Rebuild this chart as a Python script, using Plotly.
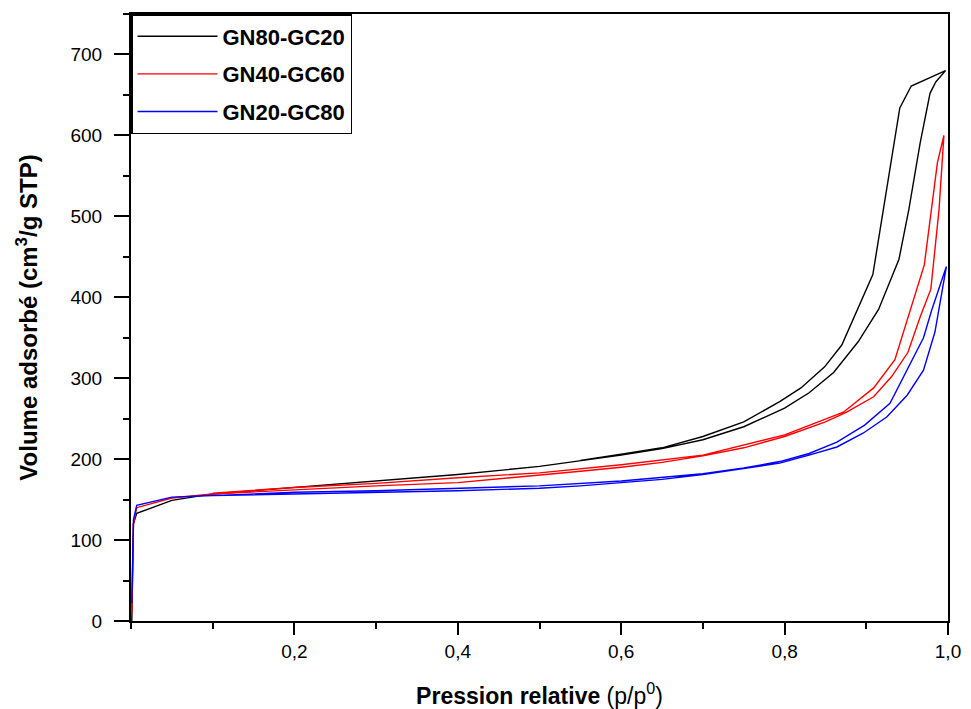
import plotly.graph_objects as go

# GN80-GC20 (black): adsorption then desorption
p_gn80 = [0.001, 0.003, 0.007, 0.05, 0.1, 0.2, 0.3, 0.4, 0.5, 0.55, 0.6, 0.65, 0.7, 0.75, 0.8, 0.83, 0.86,
          0.89, 0.915, 0.94, 0.952, 0.966, 0.978, 0.985, 0.997,
          0.955, 0.941, 0.908, 0.87, 0.849, 0.82, 0.794, 0.75, 0.7, 0.65, 0.6, 0.55]
v_gn80 = [0, 120, 133, 149, 157, 165, 173, 181, 191, 198, 205, 213, 224, 240, 263, 282, 307,
          345, 385, 447, 508, 591, 652, 666, 680,
          661, 634, 428, 341, 314, 288, 271, 246, 228, 214, 206, 198.5]

# GN40-GC60 (red)
p_gn40 = [0.001, 0.003, 0.007, 0.05, 0.1, 0.2, 0.3, 0.4, 0.5, 0.55, 0.6, 0.65, 0.7, 0.75, 0.8, 0.85,
          0.876, 0.909, 0.931, 0.951, 0.966, 0.979, 0.989, 0.995,
          0.987, 0.971, 0.935, 0.909, 0.872, 0.8, 0.7, 0.6, 0.5, 0.4, 0.3, 0.2, 0.1]
v_gn40 = [10, 120, 140, 152, 157, 162, 167, 171, 180, 185, 190, 196, 204, 214, 228, 246,
          258, 277, 302, 332, 376, 410, 508, 600,
          566, 440, 323, 288, 258, 230, 205, 193, 183, 177, 170, 165, 158]

# GN20-GC80 (blue)
p_gn20 = [0.001, 0.003, 0.007, 0.05, 0.1, 0.2, 0.3, 0.4, 0.5, 0.55, 0.6, 0.65, 0.7, 0.75, 0.794, 0.83,
          0.864, 0.896, 0.925, 0.95, 0.97, 0.984, 0.998,
          0.98, 0.97, 0.929, 0.898, 0.864, 0.83, 0.794, 0.75, 0.7, 0.6, 0.5, 0.4, 0.3, 0.2, 0.105]
v_gn20 = [22, 125, 143, 153, 155, 157, 159, 161, 164, 167, 171, 175, 181, 188, 195, 205,
          215, 232, 252, 279, 310, 357, 438,
          384, 350, 269, 242, 221, 207, 197, 189, 182, 173, 167, 164, 161, 159, 155]

series_names = ["GN80-GC20", "GN40-GC60", "GN20-GC80"]
series_colors = ["#000000", "#ff0000", "#0000ff"]

x_tickvals = [0.2, 0.4, 0.6, 0.8, 1.0]
x_ticktext = ["0,2", "0,4", "0,6", "0,8", "1,0"]
y_tickvals = [0, 100, 200, 300, 400, 500, 600, 700]

FONT = "Liberation Sans, Arial, sans-serif"

fig = go.Figure()
for i, (xs, ys) in enumerate([(p_gn80, v_gn80), (p_gn40, v_gn40), (p_gn20, v_gn20)]):
    fig.add_trace(go.Scatter(
        x=xs, y=ys, mode="lines", name="<b>" + series_names[i] + "</b>",
        line=dict(color=series_colors[i], width=1.4), legendgroup=str(i)))

# the page body has an 8px margin, so the figure is shrunk by 8px and margins shifted
fig.update_layout(
    width=963, height=701,
    margin=dict(l=123, r=23, t=6, b=88),
    plot_bgcolor="white", paper_bgcolor="white",
    font=dict(family=FONT, size=19, color="black"),
    showlegend=True,
    legend=dict(x=0, y=1, xanchor="left", yanchor="top",
                bordercolor="black", borderwidth=1.5, bgcolor="white",
                font=dict(size=22, family=FONT), itemwidth=80,
                tracegroupgap=6, traceorder="grouped"),
    xaxis=dict(range=[0, 1.0], tickvals=x_tickvals, ticktext=x_ticktext,
               ticks="outside", ticklen=12, tickwidth=2, tickcolor="black",
               showline=True, linewidth=2, linecolor="black", mirror=True,
               showgrid=False, zeroline=False, automargin=False,
               ticklabelstandoff=0,
               minor=dict(dtick=0.1, tick0=0, ticks="outside", ticklen=6, tickwidth=2, tickcolor="black"),
               title=dict(text="<b>Pression relative</b> (p/p<sup>0</sup>)", font=dict(size=23), standoff=46),
               tickfont=dict(size=19)),
    yaxis=dict(range=[0, 750], tickvals=y_tickvals,
               ticks="outside", ticklen=15, tickwidth=2, tickcolor="black",
               showline=True, linewidth=2, linecolor="black", mirror=True,
               showgrid=False, zeroline=False, automargin=False,
               ticklabelstandoff=8,
               minor=dict(dtick=50, tick0=0, ticks="outside", ticklen=6, tickwidth=2, tickcolor="black"),
               title=dict(text="<b>Volume adsorbé (cm<sup>3</sup>/g STP)</b>", font=dict(size=24), standoff=26),
               tickfont=dict(size=19)),
)

fig.write_html("out.html")
